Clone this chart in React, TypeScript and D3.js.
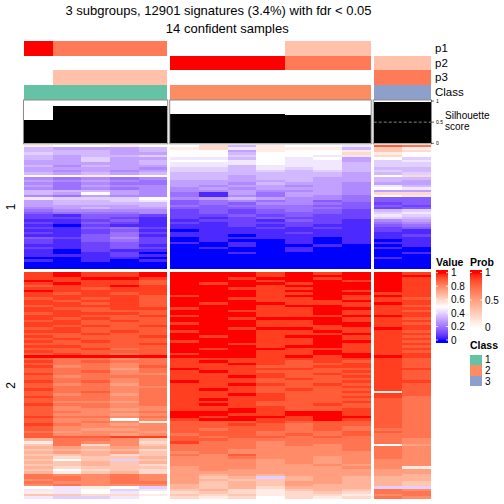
import React from "react";
import * as d3 from "d3";

const titleLines = ["3 subgroups, 12901 signatures (3.4%) with fdr < 0.05", "14 confident samples"];
const classNames = ["1", "2", "3"];
const classColors = ["#66C2A5", "#FC8D62", "#8DA0CB"];
const sampleClass = [1, 1, 1, 1, 1, 2, 2, 2, 2, 2, 2, 2, 3, 3];
const probP1 = [1, 0.67, 0.67, 0.67, 0.67, 0, 0, 0, 0, 0.33, 0.33, 0.33, 0, 0];
const probP2 = [0, 0, 0, 0, 0, 1, 1, 1, 1, 0.67, 0.67, 0.67, 0.33, 0.33];
const probP3 = [0, 0.33, 0.33, 0.33, 0.33, 0, 0, 0, 0, 0, 0, 0, 0.67, 0.67];
const silhouette = [0.55, 0.88, 0.88, 0.88, 0.88, 0.69, 0.69, 0.69, 0.69, 0.67, 0.67, 0.67, 0.98, 0.98];
const rowSliceNames = ["1", "2"];
const valueTicks = [0, 0.2, 0.4, 0.6, 0.8, 1];
const probTicks = [0, 0.5, 1];
const silTicks = [0, 0.5, 1];

// each char: a=0 ... k=0.5 ... u=1 (step 0.05); groups separated by "|"
const slice1Rows = [
  "lkklk|kmhlkkj|sr",
  "hgggh|lmjlllh|nl",
  "hhhgh|kkglkkl|nm",
  "ihhgg|kkhkkkm|lk",
  "hghhi|kkikkjj|mk",
  "hgigg|jjhkjkg|ki",
  "ggigh|kkjkjjg|ij",
  "ggggh|jjjkjjh|ii",
  "hfhgg|jjhjjjh|ii",
  "ggggf|iihjijh|hh",
  "gfgfg|iihihih|ih",
  "hghgh|hhhhhhg|hi",
  "kklkk|hhghhhg|km",
  "fefef|hhghhgg|hh",
  "gfgfe|gggghgg|hg",
  "fefee|ggfhggf|gg",
  "gegff|gfggfgf|jh",
  "fefef|fgfgggf|kj",
  "hhhgf|ffgffgf|gg",
  "hgkgf|ebgeggf|mm",
  "fegff|ebfegfe|kj",
  "jiiik|fghgffe|dd",
  "ghhij|defefde|dd",
  "ghhhh|dedffed|cd",
  "ggggh|edeeedd|dc",
  "fghgg|dddeeed|cd",
  "effff|cdcdedc|hi",
  "deeef|cdcdddc|ij",
  "cbddc|ccdcdcc|ji",
  "ccdcb|cbcdccc|ih",
  "bbcdb|bccbdcb|fg",
  "cbdcb|cbccccb|ef",
  "bacbb|bbcbcbb|de",
  "cbdec|bbbcbcb|cd",
  "bbcdb|abbbbbb|cb",
  "cbcec|bbbbcbb|bb",
  "bbdeb|bbabbbb|bc",
  "dcdfc|abbbbab|bb",
  "cbdec|abaabab|ab",
  "cbcdc|bababab|bb",
  "bbcdb|aabaaba|ab",
  "cbcdc|abaabaa|ba",
  "bacbb|aaaabaa|aa",
  "babca|aabaaaa|ab",
  "bbbcb|aaaaaaa|aa",
  "aabba|aaaaaaa|ba",
  "babab|aaaaaaa|aa",
  "aaaaa|aaaaaaa|aa",
  "aaaaa|aaaaaaa|aa",
  "aaaaa|aaaaaaa|aa",
];

const slice2Rows = [
  "tuttu|uuututu|ut",
  "tuttu|uuutuuu|uu",
  "ttuut|uutuutu|ut",
  "uttts|uuutuut|ut",
  "tutts|utuutuu|ut",
  "sttut|uuutuuu|ut",
  "ttstt|uutttuu|ut",
  "utttt|uuutuut|ut",
  "tstst|uuuttuu|tt",
  "tttts|tuutuut|ut",
  "ststs|uutttut|ts",
  "tstts|uuutttu|tt",
  "ttsts|utuuttt|ut",
  "sttts|uuutuut|ts",
  "tsstt|tuuttuu|tt",
  "ttsss|uutttut|ts",
  "sttts|uuuttut|tt",
  "ttsst|tuutttu|ut",
  "tstss|uutuuut|ts",
  "ststs|uuuttut|tt",
  "ttsss|tuuttuu|ts",
  "tstst|uuutttu|tt",
  "stsss|uutuutt|ut",
  "ttsts|tuuttut|ts",
  "sstss|uuutttu|tt",
  "tssst|ututuut|ts",
  "stsss|uuuttut|tt",
  "tstss|tuuttuu|ts",
  "sssst|uutttut|tt",
  "ttsss|uuutuut|ts",
  "sstrs|utuuttt|tt",
  "tssss|uuuttut|ts",
  "stsrs|tuuttuu|tt",
  "uuuuu|uuututu|ut",
  "srrqr|ttttttt|ts",
  "trsrr|tuttsts|ts",
  "srrqr|ttutsst|ts",
  "tqrqs|tttsstt|ts",
  "srrpr|uttttss|tt",
  "srsqr|tutssst|ts",
  "trrqq|ttttsts|ts",
  "sqrrr|ttutsst|ts",
  "srrqr|tttstss|ts",
  "trsqr|uttssst|tt",
  "sqrpr|ttutsts|ts",
  "srrqq|tttssst|ts",
  "trrqr|tutstss|ts",
  "srsqr|tttssst|ls",
  "sqrpr|ttutsss|ts",
  "trrqr|ttttsst|tr",
  "srrqr|tuttsss|sr",
  "sqqpr|tttssst|sr",
  "trrqr|tutssts|sr",
  "sqrqq|ttttsss|sr",
  "sqqpq|ttutsst|sr",
  "srqqr|uuutuut|sr",
  "sqqpq|uuttuut|sr",
  "trrqr|utuutuu|sr",
  "sqqkq|tuuttut|sr",
  "sqrql|ssstsss|sr",
  "trqpq|sstsrss|sr",
  "sqqqq|ssssrsr|sr",
  "sqppq|srssrsr|rr",
  "rpqqp|sssrrrs|sr",
  "sqqpq|rssrsrs|rr",
  "ssstt|srssrsr|rr",
  "orrqn|ssrrrrr|rq",
  "lrqqm|trrqrrr|rq",
  "nrmqn|rrrqrqr|kp",
  "opopo|rrrqqqr|rq",
  "nonom|rrqqqqr|rq",
  "opopn|qrqqqqq|rq",
  "nnomn|rqsqqqq|rq",
  "omnno|qqrqqpq|rq",
  "nknin|qqqpqpq|qq",
  "onono|qqqpqpq|qq",
  "nnonm|qqqppqp|qq",
  "omnnn|pqqpppq|ql",
  "nkmnm|pqppppp|pp",
  "olnom|ppppppp|pp",
  "rqqrq|popoppp|po",
  "rrqrq|pnoiopo|oo",
  "qrqrq|ponnopo|oo",
  "rqqrr|pnonppo|on",
  "qrqqq|ononpoo|on",
  "kjlki|onomooo|ii",
  "jjkij|nomlnon|rq",
  "ljkjk|mnmlmnm|rr",
  "nnmml|nmnlmml|qr",
  "jiijk|mlmkmlm|rq",
];

const FONT = "'Liberation Sans', Arial, Helvetica, sans-serif";

const decode = (s: string) =>
  s.replace(/\|/g, "").split("").map((c) => (c.charCodeAt(0) - 97) / 20);

const valueColor = d3
  .scaleLinear<string>()
  .domain([0, 0.5, 1])
  .range(["#0000FF", "#FFFFFF", "#FF0000"])
  .interpolate(d3.interpolateLab)
  .clamp(true);

const probColor = d3
  .scaleLinear<string>()
  .domain([0, 1])
  .range(["#FFFFFF", "#FF0000"])
  .interpolate(d3.interpolateLab)
  .clamp(true);

export default function App() {
  const nS = sampleClass.length;
  const L = 24;
  const R = 431;
  const GAP = 3;
  const groups = d3.groups(d3.range(nS), (i) => sampleClass[i]);
  const colW = (R - L - GAP * (groups.length - 1)) / nS;
  let cursor = L;
  const groupInfo = groups.map(([cls, idx]) => {
    const x0 = cursor;
    const x1 = cursor + idx.length * colW;
    cursor = x1 + GAP;
    return { cls, idx, x0, x1, scale: d3.scaleBand<number>().domain(idx).range([x0, x1]) };
  });
  const sampleX: number[] = [];
  groupInfo.forEach((g) => g.idx.forEach((i) => (sampleX[i] = g.scale(i) as number)));

  const slices = [
    { name: rowSliceNames[0], rows: slice1Rows.map(decode), y0: 145, y1: 269 },
    { name: rowSliceNames[1], rows: slice2Rows.map(decode), y0: 272, y1: 499 },
  ];

  const annoRows = [
    { name: "p1", vals: probP1, y: 41, h: 14.5 },
    { name: "p2", vals: probP2, y: 55.5, h: 14.5 },
    { name: "p3", vals: probP3, y: 70, h: 14.5 },
  ];
  const classRow = { name: "Class", y: 85, h: 14.5 };

  const silY = d3.scaleLinear().domain([0, 1]).range([143.3, 101]);

  const vScale = d3.scaleLinear().domain([0, 1]).range([340, 272.7]);
  const vBar = { x: 436, w: 12, y0: 269.5, y1: 342.5 };
  const pScale = d3.scaleLinear().domain([0, 1]).range([327.5, 272.5]);
  const pBar = { x: 470, w: 12, y0: 269.5, y1: 330.5 };

  const lastG = groupInfo[groupInfo.length - 1];

  return (
    <svg
      width={504}
      height={504}
      style={{ position: "absolute", left: 0, top: 0, background: "#fff" }}
      fontFamily={FONT}
    >
      <rect x={0} y={0} width={504} height={504} fill="#fff" />
      <text x={218.5} y={14.5} fontSize={13} textAnchor="middle" fill="#000">
        {titleLines[0]}
      </text>
      <text x={227.3} y={32.5} fontSize={13} textAnchor="middle" fill="#000">
        {titleLines[1]}
      </text>

      <g shapeRendering="crispEdges">
        {annoRows.map((r) =>
          r.vals.map((v, i) => (
            <rect key={r.name + i} x={sampleX[i]} y={r.y} width={colW} height={r.h} fill={probColor(v)} />
          ))
        )}
        {sampleClass.map((c, i) => (
          <rect key={"c" + i} x={sampleX[i]} y={classRow.y} width={colW} height={classRow.h} fill={classColors[c - 1]} />
        ))}
      </g>
      {annoRows.map((r) => (
        <text key={r.name} x={435} y={r.y + r.h / 2 + 4} fontSize={11.5} fill="#000">
          {r.name}
        </text>
      ))}
      <text x={435} y={classRow.y + classRow.h / 2 + 4} fontSize={11.5} fill="#000">
        {classRow.name}
      </text>

      <g shapeRendering="crispEdges">
        {silhouette.map((v, i) => (
          <rect key={"s" + i} x={sampleX[i]} y={silY(v)} width={colW} height={silY(0) - silY(v)} fill="#000" />
        ))}
      </g>
      {groupInfo.map((g) => (
        <rect key={"box" + g.cls} x={g.x0 - 0.5} y={100} width={g.x1 - g.x0 + 1} height={43.8} fill="none" stroke="#8c8c8c" strokeWidth={1} />
      ))}
      <line x1={lastG.x0} x2={R + 3} y1={silY(0.5)} y2={silY(0.5)} stroke="#a6a6a6" strokeWidth={0.8} strokeDasharray="3,2" />
      {silTicks.map((t) => (
        <g key={"st" + t}>
          <line x1={R} x2={R + 3} y1={silY(t)} y2={silY(t)} stroke="#000" strokeWidth={0.6} />
          <text x={R + 5} y={silY(t)} fontSize={5} dominantBaseline="central" fill="#000">
            {String(t)}
          </text>
        </g>
      ))}
      <text x={445} y={119} fontSize={10} fill="#000">Silhouette</text>
      <text x={445} y={130} fontSize={10} fill="#000">score</text>

      {slices.map((s, si) => {
        const yb = d3.scaleBand<number>().domain(d3.range(s.rows.length)).range([s.y0, s.y1]);
        return (
          <g key={"slice" + si}>
            <g shapeRendering="crispEdges">
              {s.rows.map((row, ri) =>
                row.map((v, ci) => (
                  <rect
                    key={ri + "_" + ci}
                    x={sampleX[ci]}
                    y={yb(ri)}
                    width={colW}
                    height={yb.bandwidth()}
                    fill={valueColor(v)}
                  />
                ))
              )}
            </g>
            <text
              transform={`translate(11,${(s.y0 + s.y1) / 2}) rotate(-90)`}
              fontSize={12}
              textAnchor="middle"
              dominantBaseline="central"
              fill="#000"
            >
              {s.name}
            </text>
          </g>
        );
      })}

      <text x={436} y={266} fontSize={10.5} fontWeight="bold" fill="#000">Value</text>
      <g shapeRendering="crispEdges">
        {d3.range(vBar.y0, vBar.y1, 1).map((yy) => (
          <rect key={"vb" + yy} x={vBar.x} y={yy} width={vBar.w} height={1.05} fill={valueColor(vScale.invert(yy + 0.5))} />
        ))}
      </g>
      {valueTicks.map((t) => (
        <g key={"vt" + t}>
          <line x1={vBar.x} x2={vBar.x + 2} y1={vScale(t)} y2={vScale(t)} stroke="#fff" strokeWidth={0.8} />
          <line x1={vBar.x + vBar.w - 2} x2={vBar.x + vBar.w} y1={vScale(t)} y2={vScale(t)} stroke="#fff" strokeWidth={0.8} />
          <text x={451} y={vScale(t)} fontSize={10} dominantBaseline="central" fill="#000">
            {String(t)}
          </text>
        </g>
      ))}

      <text x={470} y={266} fontSize={10.5} fontWeight="bold" fill="#000">Prob</text>
      <g shapeRendering="crispEdges">
        {d3.range(pBar.y0, pBar.y1, 1).map((yy) => (
          <rect key={"pb" + yy} x={pBar.x} y={yy} width={pBar.w} height={1.05} fill={probColor(pScale.invert(yy + 0.5))} />
        ))}
      </g>
      {probTicks.map((t) => (
        <g key={"pt" + t}>
          <line x1={pBar.x} x2={pBar.x + 2} y1={pScale(t)} y2={pScale(t)} stroke="#fff" strokeWidth={0.8} />
          <line x1={pBar.x + pBar.w - 2} x2={pBar.x + pBar.w} y1={pScale(t)} y2={pScale(t)} stroke="#fff" strokeWidth={0.8} />
          <text x={485} y={pScale(t)} fontSize={10} dominantBaseline="central" fill="#000">
            {String(t)}
          </text>
        </g>
      ))}

      <text x={470} y={348.7} fontSize={10.5} fontWeight="bold" fill="#000">Class</text>
      {classNames.map((c, k) => (
        <g key={"cl" + c}>
          <rect x={470} y={354.5 + k * 10.6} width={11.5} height={10.6} fill={classColors[k]} shapeRendering="crispEdges" />
          <text x={485} y={354.5 + k * 10.6 + 5.3} fontSize={10} dominantBaseline="central" fill="#000">
            {c}
          </text>
        </g>
      ))}
    </svg>
  );
}
